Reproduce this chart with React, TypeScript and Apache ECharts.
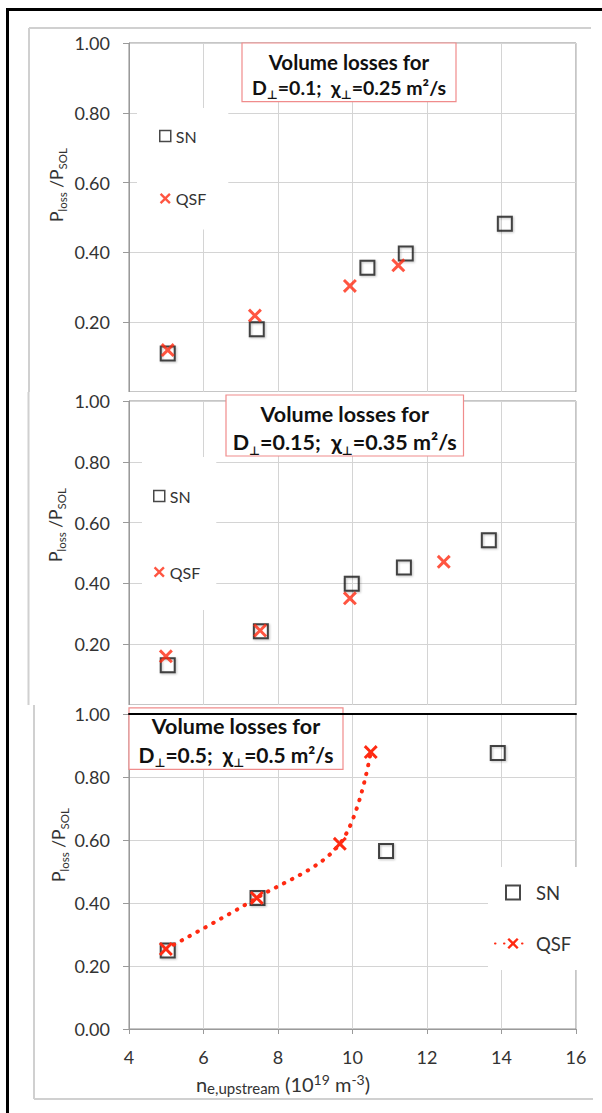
import React, { useEffect, useRef } from "react";
import * as echarts from "echarts";

const FONT = "Lato, 'Open Sans', 'DejaVu Sans', sans-serif";
const RED = "#ff2a12";
const INK = "#333333";
const GRIDC = "#d4d4d4";
const AXISC = "#9a9a9a";

// axes
const xMin = 4, xMax = 16, xStep = 2;
const yMin = 0, yMax = 1, yStep = 0.2;

// Panel 1: D⊥=0.1; χ⊥=0.25
const p1SN = [[5.04, 0.11], [7.43, 0.18], [10.4, 0.356], [11.43, 0.397], [14.09, 0.482]];
const p1QSF = [[5.04, 0.12], [7.38, 0.219], [9.93, 0.304], [11.23, 0.363]];
// Panel 2: D⊥=0.15; χ⊥=0.35
const p2SN = [[5.04, 0.131], [7.54, 0.243], [9.98, 0.399], [11.38, 0.452], [13.66, 0.542]];
const p2QSF = [[4.99, 0.16], [7.52, 0.245], [9.93, 0.351], [12.45, 0.471]];
// Panel 3: D⊥=0.5; χ⊥=0.5
const p3SN = [[5.04, 0.249], [7.45, 0.416], [10.9, 0.565], [13.9, 0.876]];
const p3QSF = [[4.99, 0.254], [7.43, 0.416], [9.66, 0.588], [10.49, 0.879]];

const dValues = ["0.1", "0.15", "0.5"];
const chiValues = ["0.25", "0.35", "0.5"];
const titleLine1 = "Volume losses for";

const X_PATH = "path://M1.5,0L5,3.5L8.5,0L10,1.5L6.5,5L10,8.5L8.5,10L5,6.5L1.5,10L0,8.5L3.5,5L0,1.5Z";
const SQ_PATH = "path://M0,0L10,0L10,10L0,10Z";

const snItem = {
  color: "rgba(255,255,255,0)",
  borderColor: "#1a1a1a",
  borderWidth: 2,
  shadowBlur: 2,
  shadowColor: "rgba(0,0,0,0.3)",
  shadowOffsetX: 1,
  shadowOffsetY: 1,
};

function titleText(i: number) {
  return `{a|${titleLine1}}\n{b|D}{s|⊥}{b|=${dValues[i]};  χ}{s|⊥}{b|=${chiValues[i]} m²/s}`;
}

function titleRich(fs1: number, fs2: number, lh: number) {
  return {
    a: { fontFamily: FONT, fontSize: fs1, fontWeight: "bold", fill: "#111", lineHeight: lh },
    b: { fontFamily: FONT, fontSize: fs2, fontWeight: "bold", fill: "#111", lineHeight: lh },
    s: { fontFamily: FONT, fontSize: 12, fontWeight: "bold", fill: "#111", lineHeight: 14, verticalAlign: "bottom" },
  };
}

const yTitleRich = {
  a: { fontFamily: FONT, fontSize: 17.5, fill: INK, lineHeight: 24 },
  s: { fontFamily: FONT, fontSize: 11.5, fill: INK, lineHeight: 14, verticalAlign: "bottom" },
};

function yTitle(x: number, y: number) {
  return {
    type: "text",
    x,
    y,
    rotation: Math.PI / 2,
    z: 50,
    style: { text: "{a|P}{s|loss}{a| /P}{s|SOL}", rich: yTitleRich, align: "center", verticalAlign: "middle" },
  };
}

function titleBox(i: number, x: number, y: number, w: number, h: number, cy: number, fs1: number, fs2: number, lh: number) {
  return [
    { type: "rect", z: 60, shape: { x, y, width: w, height: h }, style: { fill: "#fff", stroke: "#f08c8c", lineWidth: 1.2 } },
    {
      type: "text",
      z: 61,
      x: x + w / 2,
      y: cy,
      style: { text: titleText(i), rich: titleRich(fs1, fs2, lh), align: "center", verticalAlign: "middle" },
    },
  ];
}

function frameLine(x1: number, y1: number, x2: number, y2: number) {
  return { type: "line", z: 1, shape: { x1, y1, x2, y2 }, style: { stroke: "#d0d0d0", lineWidth: 2 } };
}

function buildPanel(cfg: any) {
  const xAxes: any[] = [
    {
      type: "value",
      min: xMin,
      max: xMax,
      interval: xStep,
      axisLine: { show: cfg.showX, onZero: false, lineStyle: { color: AXISC, width: 1 } },
      axisTick: { show: cfg.showX, length: 5, lineStyle: { color: AXISC } },
      axisLabel: { show: cfg.showX, margin: 19, fontFamily: FONT, fontSize: 18, color: INK },
      splitLine: { show: true, lineStyle: { color: GRIDC, width: 1 } },
    },
  ];
  if (cfg.blackTop) {
    xAxes.push({
      type: "value",
      position: "top",
      min: xMin,
      max: xMax,
      interval: xStep,
      z: 70,
      axisLine: { show: true, onZero: false, lineStyle: { color: "#000", width: 2 } },
      axisTick: { show: false },
      axisLabel: { show: false },
      splitLine: { show: false },
    });
  }
  return {
    animation: false,
    grid: { left: 129, top: cfg.gridTop, width: 447, height: cfg.gridHeight, show: true, borderColor: "#8c8c8c", borderWidth: 1 },
    xAxis: xAxes,
    yAxis: {
      type: "value",
      min: yMin,
      max: yMax,
      interval: yStep,
      axisLine: { show: true, lineStyle: { color: AXISC, width: 1 } },
      axisTick: { show: true, length: 6, lineStyle: { color: AXISC } },
      axisLabel: {
        margin: 19,
        fontFamily: FONT,
        fontSize: 18,
        color: INK,
        padding: [5, 0, 0, 0],
        showMinLabel: cfg.showX,
        formatter: (v: number) => v.toFixed(2),
      },
      splitLine: { show: true, lineStyle: { color: GRIDC, width: 1 } },
    },
    legend: cfg.legend,
    series: cfg.series,
    graphic: cfg.graphic,
  };
}

function scatterSeries(sn: number[][], qsf: number[][]) {
  return [
    { name: "SN", type: "scatter", data: sn, symbol: "rect", symbolSize: 14, itemStyle: snItem, z: 3 },
    { name: "QSF", type: "scatter", data: qsf, symbol: X_PATH, symbolSize: 14, itemStyle: { color: RED }, z: 4 },
  ];
}

function smallLegend(left: number, top: number, padding: number[], gap: number) {
  return {
    orient: "vertical",
    left,
    top,
    padding,
    backgroundColor: "#fff",
    itemWidth: 11,
    itemHeight: 11,
    itemGap: gap,
    selectedMode: false,
    textStyle: { fontFamily: FONT, fontSize: 16, color: INK, lineHeight: 18 },
    data: [
      { name: "SN", icon: "rect", itemStyle: { color: "rgba(255,255,255,0)", borderColor: "#1a1a1a", borderWidth: 1.5, shadowBlur: 0 } },
      { name: "QSF", icon: X_PATH, itemStyle: { color: RED, borderWidth: 0 } },
    ],
  };
}

const option1 = buildPanel({
  gridTop: 43,
  gridHeight: 352.5,
  showX: false,
  legend: smallLegend(137, 108, [19, 22, 22, 22], 44.5),
  series: scatterSeries(p1SN, p1QSF),
  graphic: [
    frameLine(29, 28, 591, 28),
    frameLine(29, 28, 29, 392),
    ...titleBox(0, 242, 43, 214, 58.7, 74.5, 20.5, 19.5, 25.5),
    yTitle(56, 185),
  ],
});

const option2 = buildPanel({
  gridTop: 1.3,
  gridHeight: 313.4,
  showX: false,
  legend: smallLegend(142, 65, [30, 16, 29, 11], 58),
  series: scatterSeries(p2SN, p2QSF),
  graphic: [
    frameLine(28.5, 0, 28.5, 313),
    ...titleBox(1, 226, 3, 237.5, 61, 36, 21.5, 21.5, 28),
    yTitle(55, 133),
  ],
});

const option3 = buildPanel({
  gridTop: 1,
  gridHeight: 323,
  showX: true,
  blackTop: true,
  legend: {
    orient: "vertical",
    left: 488,
    top: 162,
    padding: [16, 8, 17, 6],
    backgroundColor: "#fff",
    itemWidth: 36,
    itemHeight: 14,
    itemGap: 32,
    selectedMode: false,
    textStyle: { fontFamily: FONT, fontSize: 18.5, color: INK, lineHeight: 18 },
    data: [
      { name: "SN", icon: SQ_PATH, itemStyle: { color: "rgba(255,255,255,0)", borderColor: "#1a1a1a", borderWidth: 2, shadowBlur: 0 } },
      { name: "QSF" },
    ],
  },
  series: [
    { name: "SN", type: "scatter", data: p3SN, symbol: "rect", symbolSize: 14, itemStyle: snItem, z: 3 },
    {
      name: "QSF",
      type: "line",
      data: p3QSF,
      smooth: 0.35,
      symbol: X_PATH,
      symbolSize: 14,
      showSymbol: true,
      itemStyle: { color: RED },
      lineStyle: { color: RED, width: 4, type: [0.5, 8.5], cap: "round" },
      z: 4,
    },
  ],
  graphic: [
    frameLine(34, 0, 34, 394),
    frameLine(34, 394, 593, 394),
    ...titleBox(2, 129, 2.8, 214, 61.5, 35, 21.5, 21, 28),
    yTitle(58.5, 140),
    {
      type: "text",
      x: 283,
      y: 379,
      z: 50,
      style: {
        text: "{a|n}{s|e,upstream}{a| (10}{p|19}{a| m}{p|-3}{a|)}",
        rich: {
          a: { fontFamily: FONT, fontSize: 20, fill: INK, lineHeight: 23.5 },
          s: { fontFamily: FONT, fontSize: 15, fill: INK, lineHeight: 16, verticalAlign: "bottom" },
          p: { fontFamily: FONT, fontSize: 14, fill: INK, lineHeight: 16, verticalAlign: "top" },
        },
        align: "center",
        verticalAlign: "middle",
      },
    },
  ],
});

export default function App() {
  const r1 = useRef<HTMLDivElement>(null);
  const r2 = useRef<HTMLDivElement>(null);
  const r3 = useRef<HTMLDivElement>(null);

  useEffect(() => {
    document.body.style.margin = "0";
    const opts = [option1, option2, option3];
    const charts = [r1, r2, r3].map((r, i) => {
      const c = echarts.init(r.current as HTMLDivElement, undefined, { renderer: "svg" });
      c.setOption(opts[i] as any);
      return c;
    });
    return () => charts.forEach((c) => c.dispose());
  }, []);

  return (
    <div style={{ position: "relative", width: 602, height: 1113, background: "#fff", overflow: "hidden" }}>
      <div ref={r1} style={{ position: "absolute", left: 0, top: 0, width: 602, height: 392, background: "#fff" }} />
      <div ref={r2} style={{ position: "absolute", left: 0, top: 392, width: 602, height: 313, background: "#fff" }} />
      <div ref={r3} style={{ position: "absolute", left: 0, top: 705, width: 602, height: 408, background: "#fff" }} />
      <div style={{ position: "absolute", left: 5.5, top: 7.5, width: 3, height: 1106, background: "#000" }} />
      <div style={{ position: "absolute", left: 5.5, top: 7.5, width: 597, height: 3, background: "#000" }} />
    </div>
  );
}
